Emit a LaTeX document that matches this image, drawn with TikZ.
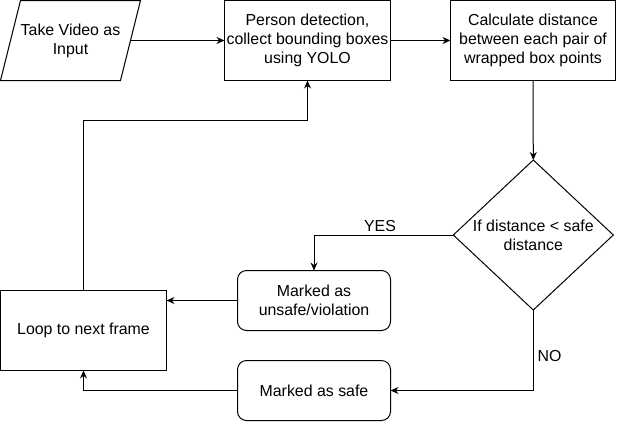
\documentclass[tikz,border=0pt]{standalone}
\usepackage{fontspec}
\setmainfont{Liberation Sans}
\usetikzlibrary{shapes.geometric,arrows.meta}
\tikzset{
  base/.style={draw=black, line width=1pt, inner sep=0pt, outer sep=0pt, align=center,
    font=\fontsize{15.9pt}{19pt}\selectfont},
  box/.style={base, rectangle},
  rbox/.style={base, rectangle, rounded corners=9pt},
  decbox/.style={base, diamond, aspect=1.0667},
  arr/.style={line width=1pt, -{Stealth[length=8pt,width=7pt]}},
  lbl/.style={inner sep=0pt, font=\fontsize{15.9pt}{19pt}\selectfont}
}
\begin{document}
\begin{tikzpicture}[x=1pt,y=-1pt]
\fill[white] (0,0) rectangle (617,421);
\useasboundingbox (0,0) rectangle (617,421);

% input parallelogram (frame node + outline)
\node[base, draw=none, minimum width=140pt, minimum height=80pt] (input) at (70.5,40.5) {Take Video as\\Input};
\draw[line width=1pt] ([xshift=20pt]input.north west) -- (input.north east)
  -- ([xshift=-20pt]input.south east) -- (input.south west) -- cycle;

\node[box, minimum width=166pt, minimum height=80pt] (detect) at (307.5,40.5)
  {Person detection,\\collect bounding boxes\\using YOLO};
\node[box, minimum width=165pt, minimum height=80pt] (calc) at (533,40.5)
  {Calculate distance\\between each pair of\\wrapped box points};
\node[decbox, minimum width=160pt, minimum height=150pt] (dec) at (533.3,235)
  {If distance < safe\\distance};
\node[rbox, minimum width=153pt, minimum height=60pt] (unsafe) at (314,300.5)
  {Marked as\\unsafe/violation};
\node[rbox, minimum width=153pt, minimum height=60pt] (safe) at (314,390.5)
  {Marked as safe};
\node[box, minimum width=166pt, minimum height=80pt] (loop) at (83.5,330.5)
  {Loop to next frame};

\node[lbl] (yes) at (380,226) {YES};
\node[lbl, anchor=west] (no) at (537.5,356) {NO};

\draw[arr] ([xshift=-10pt]input.east) -- (detect.west);
\draw[arr] (detect.east) -- (calc.west);
\draw[arr] (calc.south) -- (dec.north);
\draw[arr] (dec.west) -| (unsafe.north);
\draw[arr] (dec.south) |- (safe.east);
\draw[arr] (unsafe.west) -- (unsafe.west -| loop.east);
\draw[arr] (safe.west) -| (loop.south);
\draw[arr] (loop.north) -- ++(0,-170) -| (detect.south);
\end{tikzpicture}
\end{document}
